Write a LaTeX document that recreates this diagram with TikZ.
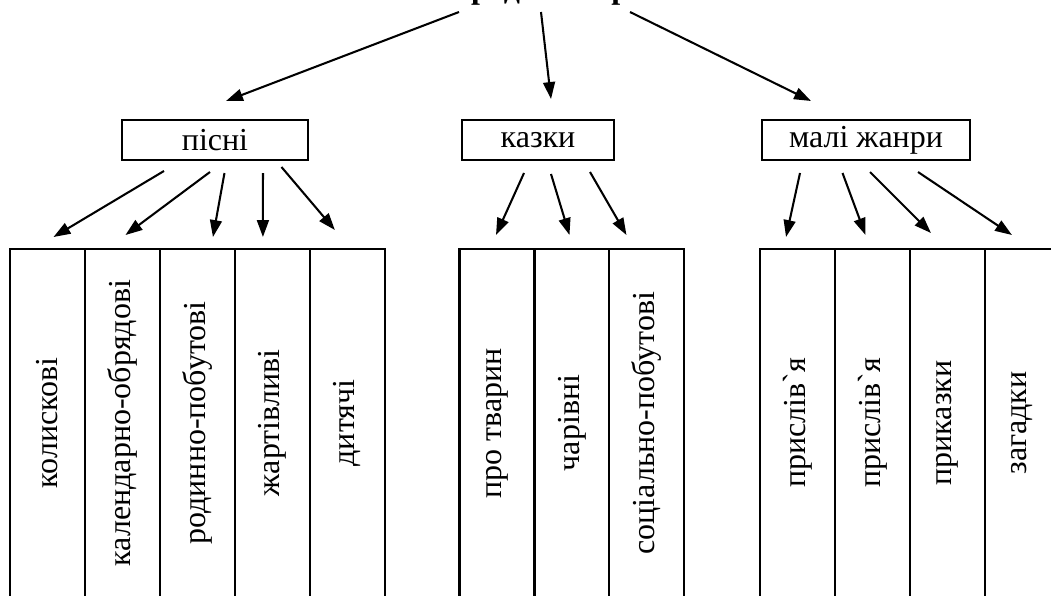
\documentclass[tikz,border=0pt]{standalone}
\usepackage{fontspec}
\setmainfont{Liberation Serif}
\usetikzlibrary{arrows.meta,positioning,calc}

\begin{document}
\begin{tikzpicture}[x=0.4375pt,y=-0.4375pt,
        every node/.style={font=\fontsize{14}{16}\selectfont},
        genre/.style={draw,line width=0.9pt,minimum height=17.5pt,inner sep=0pt,outer sep=0pt},
        cell/.style={draw,line width=0.9pt,minimum width=32.8pt,minimum height=152.25pt,inner sep=0pt,outer sep=0pt},
        arr/.style={line width=0.9pt,-{Triangle[length=7.4pt,width=5.2pt]}}]
        \useasboundingbox (0,0) rectangle (1051,595);

        % title (only its lower edge is on the page)
        \node (title) [anchor=base,font=\fontsize{14}{16}\selectfont\bfseries] at (531,-1) {Усна народна творчість};

        % genres
        \node (pisni) [genre,minimum width=81.4pt] at (215,140) {пісні};
        \node (kazky) [genre,minimum width=66.5pt] at (538,140) {казки};
        \node (mali) [genre,minimum width=91pt] at (866,140) {малі жанри};

        % columns
        \node (c1) [cell] at (47.5,423) {\rotatebox{90}{колискові}};
        \node (c2) [cell,right=0pt of c1] {\rotatebox{90}{календарно-обрядові}};
        \node (c3) [cell,right=0pt of c2] {\rotatebox{90}{родинно-побутові}};
        \node (c4) [cell,right=0pt of c3] {\rotatebox{90}{жартівливі}};
        \node (c5) [cell,right=0pt of c4] {\rotatebox{90}{дитячі}};
        \node (c6) [cell] at (497,423) {\rotatebox{90}{про тварин}};
        \node (c7) [cell,right=0pt of c6] {\rotatebox{90}{чарівні}};
        \node (c8) [cell,right=0pt of c7] {\rotatebox{90}{соціально-побутові}};
        \node (c9) [cell] at (797.5,423) {\rotatebox{90}{прислів\textasciigrave я}};
        \node (c10) [cell,right=0pt of c9] {\rotatebox{90}{прислів\textasciigrave я}};
        \node (c11) [cell,right=0pt of c10] {\rotatebox{90}{приказки}};
        \node (c12) [cell,right=0pt of c11] {\rotatebox{90}{загадки}};

        % title to genres
        \draw [arr] ($(title.base)+(-72,13)$) -- ($(pisni.north)+(11,-19)$);
        \draw [arr] ($(title.base)+(10,13)$) -- ($(kazky.north)+(13,-21)$);
        \draw [arr] ($(title.base)+(99,13)$) -- ($(mali.north)+(-55,-19)$);

        % genres to columns
        \draw [arr] ($(pisni.south west)+(42,11)$) -- ($(c1.north)+(6,-12)$);
        \draw [arr] ($(pisni.south west)+(88,12)$) -- ($(c2.north)+(3,-14)$);
        \draw [arr] ($(pisni.south west)+(102.5,13)$) -- ($(c3.north)+(15.5,-12)$);
        \draw [arr] ($(pisni.south west)+(141,13)$) -- ($(c4.north)+(-9.5,-12)$);
        \draw [arr] ($(pisni.south west)+(159.5,7)$) -- ($(c5.north)+(-12.5,-19)$);
        \draw [arr] ($(kazky.south west)+(62,13)$) -- ($(c6.north)+(-1,-14)$);
        \draw [arr] ($(kazky.south west)+(89,14)$) -- ($(c7.north)+(-2.5,-14)$);
        \draw [arr] ($(kazky.south west)+(128,12)$) -- ($(c8.north)+(-20.5,-14)$);
        \draw [arr] ($(mali.south west)+(38,13)$) -- ($(c9.north)+(-11.5,-12)$);
        \draw [arr] ($(mali.south west)+(80.5,13)$) -- ($(c10.north)+(-7,-14)$);
        \draw [arr] ($(mali.south west)+(108,12)$) -- ($(c11.north)+(-16.5,-16)$);
        \draw [arr] ($(mali.south west)+(156,12)$) -- ($(c12.north)+(-10.5,-14)$);
\end{tikzpicture}
\end{document}
